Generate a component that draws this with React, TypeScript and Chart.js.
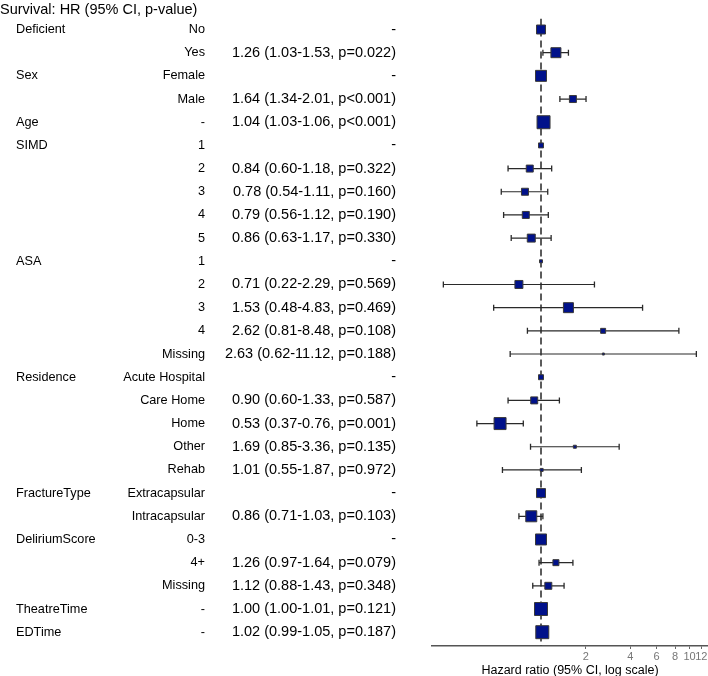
import React, { useEffect, useRef } from 'react';
import { Chart, registerables } from 'chart.js';

Chart.register(...registerables);

// ---------------- data ----------------
const variables = [
  'Deficient', '', 'Sex', '', 'Age', 'SIMD', '', '', '', '', 'ASA', '', '', '', '',
  'Residence', '', '', '', '', 'FractureType', '', 'DeliriumScore', '', '', 'TheatreTime', 'EDTime',
];
const levels = [
  'No', 'Yes', 'Female', 'Male', '-', '1', '2', '3', '4', '5', '1', '2', '3', '4', 'Missing',
  'Acute Hospital', 'Care Home', 'Home', 'Other', 'Rehab', 'Extracapsular', 'Intracapsular',
  '0-3', '4+', 'Missing', '-', '-',
];
const hrLabels = [
  '-', '1.26 (1.03-1.53, p=0.022)', '-', '1.64 (1.34-2.01, p<0.001)', '1.04 (1.03-1.06, p<0.001)',
  '-', '0.84 (0.60-1.18, p=0.322)', '0.78 (0.54-1.11, p=0.160)', '0.79 (0.56-1.12, p=0.190)', '0.86 (0.63-1.17, p=0.330)',
  '-', '0.71 (0.22-2.29, p=0.569)', '1.53 (0.48-4.83, p=0.469)', '2.62 (0.81-8.48, p=0.108)', '2.63 (0.62-11.12, p=0.188)',
  '-', '0.90 (0.60-1.33, p=0.587)', '0.53 (0.37-0.76, p=0.001)', '1.69 (0.85-3.36, p=0.135)', '1.01 (0.55-1.87, p=0.972)',
  '-', '0.86 (0.71-1.03, p=0.103)',
  '-', '1.26 (0.97-1.64, p=0.079)', '1.12 (0.88-1.43, p=0.348)',
  '1.00 (1.00-1.01, p=0.121)', '1.02 (0.99-1.05, p=0.187)',
];
const hr = [1, 1.26, 1, 1.64, 1.04, 1, 0.84, 0.78, 0.79, 0.86, 1, 0.71, 1.53, 2.62, 2.63, 1, 0.9, 0.53, 1.69, 1.01, 1, 0.86, 1, 1.26, 1.12, 1.0, 1.02];
const lower: (number | null)[] = [null, 1.03, null, 1.34, 1.03, null, 0.6, 0.54, 0.56, 0.63, null, 0.22, 0.48, 0.81, 0.62, null, 0.6, 0.37, 0.85, 0.55, null, 0.71, null, 0.97, 0.88, 1.0, 0.99];
const upper: (number | null)[] = [null, 1.53, null, 2.01, 1.06, null, 1.18, 1.11, 1.12, 1.17, null, 2.29, 4.83, 8.48, 11.12, null, 1.33, 0.76, 3.36, 1.87, null, 1.03, null, 1.64, 1.43, 1.01, 1.05];
// relative box weight (group size)
const weights = [10, 11, 12, 8, 14, 6, 8, 8, 8, 9, 4, 9, 11, 6, 3, 6, 8, 13, 4, 4, 10, 12, 12, 7, 8, 14, 14];
const xTickValues = [2, 4, 6, 8, 10, 12];

const titleText = 'Survival: HR (95% CI, p-value)';
const xTitle = 'Hazard ratio (95% CI, log scale)';

// ---------------- style ----------------
const FONT = "'Liberation Sans', Arial, Helvetica, sans-serif";
const Y_MIN = -0.479;
const Y_MAX = 26.596;

function zeroPad(s: any) {
  s.paddingTop = 0;
  s.paddingBottom = 0;
  s.paddingLeft = 0;
  s.paddingRight = 0;
}

function textAxis(labels: string[], weight: number, width: number, align: string, padding: number, size: number, show = true) {
  return {
    type: 'linear',
    position: 'left',
    weight,
    min: Y_MIN,
    max: Y_MAX,
    reverse: true,
    grid: { display: false, drawTicks: false },
    border: { display: false },
    afterBuildTicks: (s: any) => {
      s.ticks = labels.map((_, i) => ({ value: i }));
    },
    afterFit: (s: any) => {
      s.width = width;
      zeroPad(s);
    },
    ticks: {
      display: show,
      autoSkip: false,
      crossAlign: align,
      padding,
      color: '#000',
      font: { family: FONT, size },
      callback: (v: any) => labels[Math.round(Number(v))] ?? '',
    },
  };
}

export default function App() {
  const ref = useRef<HTMLCanvasElement | null>(null);

  useEffect(() => {
    if (!ref.current) return;

    const squares = hr.map((v, i) => ({ x: v, y: i }));
    const whiskers: any[] = [];
    hr.forEach((_, i) => {
      const lo = lower[i];
      const hi = upper[i];
      if (lo !== null && hi !== null) {
        whiskers.push({ x: lo, y: i }, { x: hi, y: i }, { x: null, y: null });
      }
    });

    const chart = new Chart(ref.current, {
      type: 'scatter',
      data: {
        datasets: [
          {
            label: 'HR',
            data: squares,
            yAxisID: 'yHR',
            order: 0,
            pointStyle: 'rect',
            pointRadius: (ctx: any) => (weights[ctx.dataIndex] - 1) / Math.SQRT2,
            pointBackgroundColor: '#00118A',
            pointBorderColor: '#3a3a3a',
            pointBorderWidth: 1,
            showLine: false,
          } as any,
          {
            label: 'CI',
            data: whiskers,
            yAxisID: 'yHR',
            order: 1,
            showLine: true,
            spanGaps: false,
            borderColor: '#2a2a2a',
            borderWidth: 1.2,
            pointStyle: 'line',
            rotation: 90,
            pointRadius: 3,
            pointBorderColor: '#2a2a2a',
            pointBorderWidth: 1.3,
          } as any,
          {
            label: 'ref',
            data: [
              { x: 1, y: Y_MIN },
              { x: 1, y: Y_MAX },
            ],
            yAxisID: 'yHR',
            order: 2,
            showLine: true,
            borderColor: '#333',
            borderWidth: 1.6,
            borderDash: [7, 4],
            pointRadius: 0,
          } as any,
        ],
      },
      options: {
        responsive: false,
        animation: false,
        devicePixelRatio: 1,
        layout: { padding: 0, autoPadding: false },
        plugins: {
          legend: { display: false },
          tooltip: { enabled: false },
          title: {
            display: true,
            text: titleText,
            align: 'start',
            color: '#000',
            font: { family: FONT, size: 14.5, weight: 'normal' },
            padding: { top: 1, bottom: 0 },
          },
        },
        scales: {
          x: {
            type: 'logarithmic',
            position: 'bottom',
            min: 0.1845,
            max: 13.32,
            afterBuildTicks: (s: any) => {
              s.ticks = xTickValues.map((v) => ({ value: v }));
            },
            afterFit: (s: any) => {
              s.height = 30;
              zeroPad(s);
            },
            grid: { display: true, drawOnChartArea: false, drawTicks: true, tickLength: 3, color: '#666' },
            border: { display: true, color: '#555', width: 1.5 },
            ticks: {
              autoSkip: false,
              maxRotation: 0,
              minRotation: 0,
              padding: 1,
              color: '#777',
              font: { family: FONT, size: 11 },
              callback: (v: any) => String(v),
            },
            title: {
              display: true,
              text: xTitle,
              color: '#000',
              font: { family: FONT, size: 12.5 },
              padding: { top: 0, bottom: -2 },
            },
          },
          yPad: textAxis(variables.map(() => ''), 4, 16, 'far', 0, 12.7, false),
          yVar: textAxis(variables, 3, 94, 'far', 0, 12.7),
          yLvl: textAxis(levels, 2, 105, 'near', 10, 12.7),
          yHR: textAxis(hrLabels, 1, 217, 'near', 36, 14.5),
        } as any,
      },
    });

    return () => chart.destroy();
  }, []);

  return (
    <div style={{ position: 'fixed', left: 0, top: 0, width: 708, height: 676, background: '#fff' }}>
      <canvas ref={ref} width={708} height={676} style={{ display: 'block', width: 708, height: 676 }} />
    </div>
  );
}
